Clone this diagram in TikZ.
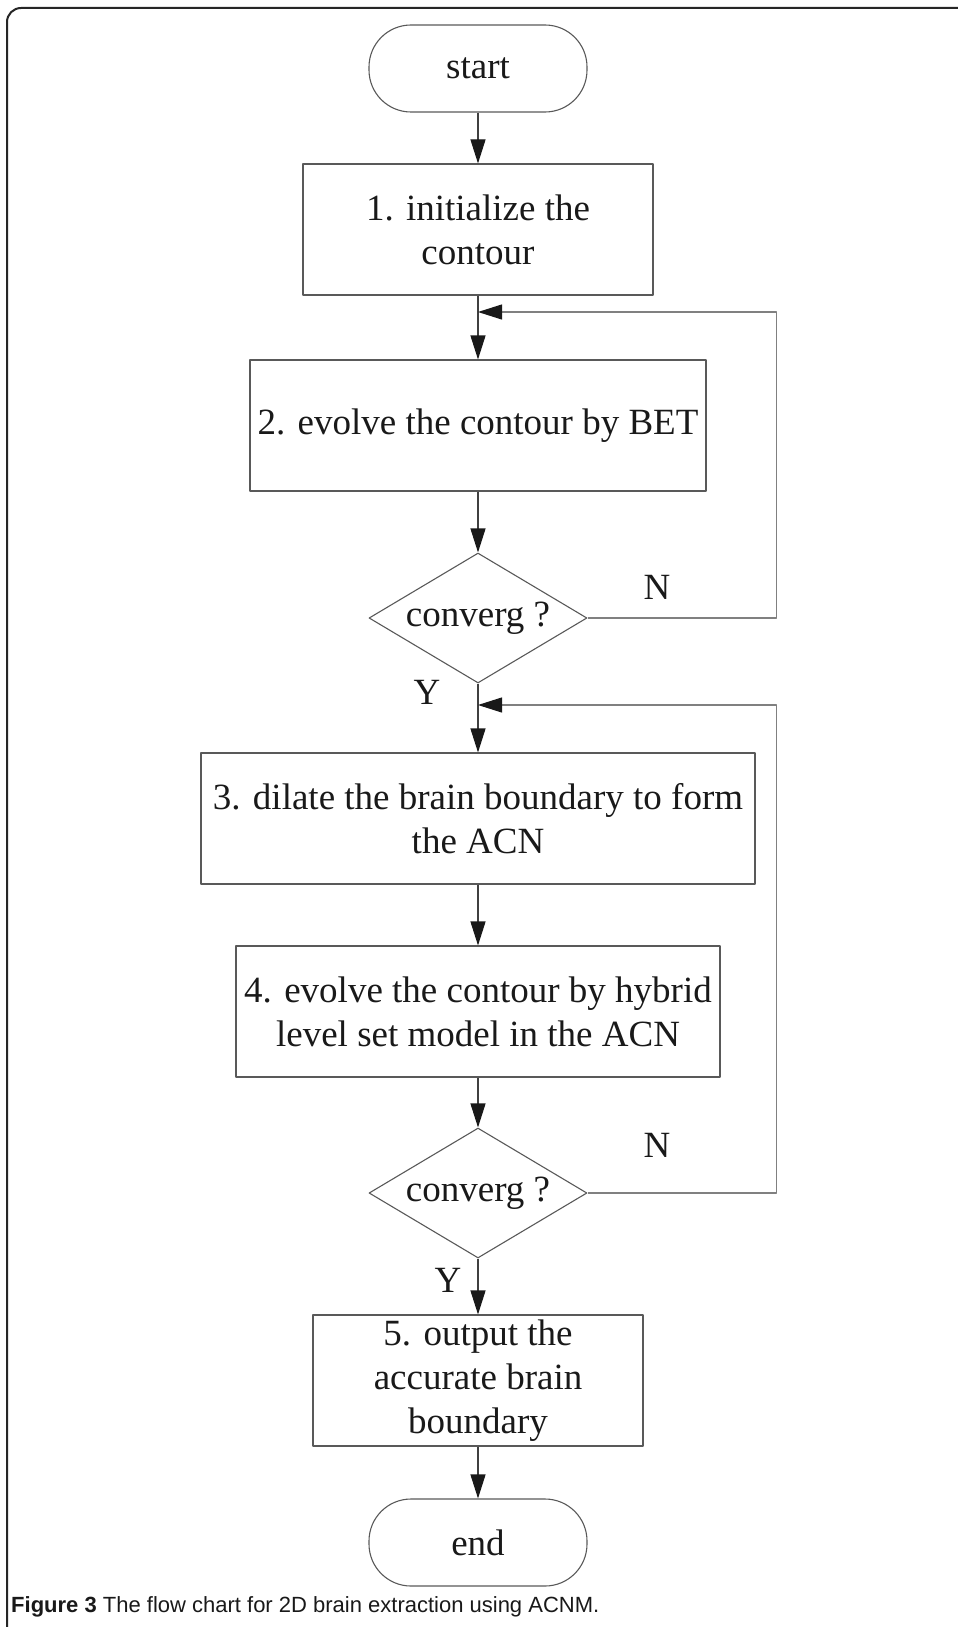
\documentclass[tikz,border=0pt]{standalone}
\usepackage{fontspec}
\setmainfont{Liberation Serif}
\newfontfamily\capfont{Liberation Sans}
\usetikzlibrary{shapes.geometric,arrows.meta}

\begin{document}
\begin{tikzpicture}[x=1pt, y=-1pt, line join=round,
		font=\fontsize{37}{44}\selectfont, text=black!90,
		>={Triangle[length=24pt,width=15pt,color=black!90]},
		stepbox/.style={draw=black!65, line width=1.1pt, rectangle, inner sep=0pt, align=center, minimum height=131pt},
		termbox/.style={draw=black!65, line width=1.1pt, rectangle, rounded corners=42pt, minimum width=218pt, minimum height=87pt},
		testbox/.style={draw=black!65, line width=1.1pt, diamond, aspect=1.68, inner sep=0pt, minimum width=218pt, minimum height=130pt},
		flow/.style={->, draw=black!75, line width=1.1pt},
		back/.style={->, draw=black!50, line width=1.1pt}]
		\useasboundingbox (0,0) rectangle (958,1627);
		% frame of the figure
		\draw[line width=2pt, black!85, rounded corners=14pt] (7,1627) -- (7,8) -- (958,8);
		% steps
		\node[termbox] (start) at (478,68.5) {start};
		\node[stepbox, minimum width=350pt] (init) at (478,229.5) {1. initialize the\\contour};
		\node[stepbox, minimum width=456pt] (bet) at (478,425.5) {2. evolve the contour by BET};
		\node[testbox] (conv1) at (478,618) {converg ?};
		\node[stepbox, minimum width=554pt] (acn) at (478,818.5) {3. dilate the brain boundary to form\\the ACN};
		\node[stepbox, minimum width=484pt] (hyb) at (478,1011.5) {4. evolve the contour by hybrid\\level set model in the ACN};
		\node[testbox] (conv2) at (478,1193) {converg ?};
		\node[stepbox, minimum width=330pt] (out) at (478,1380.5) {5. output the\\accurate brain\\boundary};
		\node[termbox] (end) at (478,1542.5) {end};
		\path (478,312) coordinate (j1)
		(478,705) coordinate (j2);
		% main flow
		\foreach \a/\b in {start/init,init/bet,bet/conv1,conv1/acn,acn/hyb,hyb/conv2,conv2/out,out/end}{
			\draw[flow] (\a) -- (\b);
		}
		% loops back
		\draw[back] (conv1.east) -- ++(189,0) |- (j1);
		\draw[back] (conv2.east) -- ++(189,0) |- (j2);
		\node (n1) at (657,587) {N};
		\node (y1) at (427,692) {Y};
		\node (n2) at (657,1145) {N};
		\node (y2) at (448,1280) {Y};
		% caption
		\node[anchor=base west, inner sep=0pt, font=\capfont\fontsize{22}{26}\selectfont] (cap) at (11,1612) {\textbf{Figure 3} The flow chart for 2D brain extraction using ACNM.};
\end{tikzpicture}
\end{document}
